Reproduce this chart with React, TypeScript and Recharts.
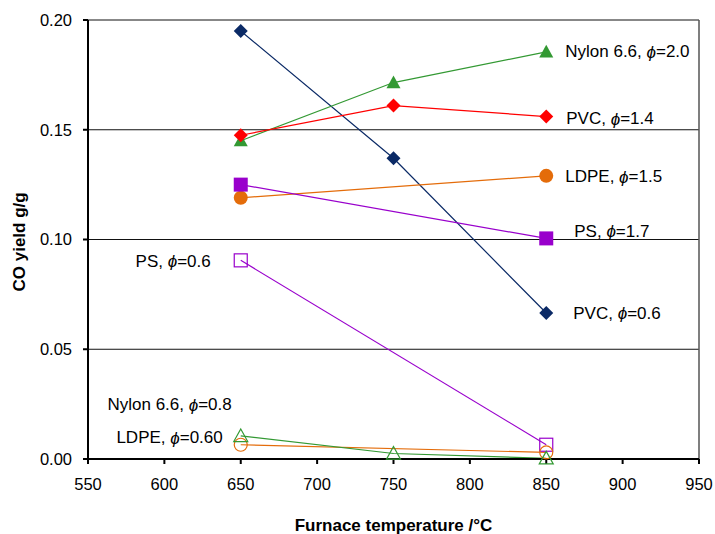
import React from "react"
import { LineChart, Line, XAxis, YAxis, CartesianGrid, ReferenceLine } from "recharts"

const temps = [650, 750, 850]
const tempsEnds = [650, 850]

const pvc06 = [0.195, 0.137, 0.0665]
const pvc14 = [0.1475, 0.161, 0.156]
const nylon20 = [0.145, 0.1715, 0.1855]
const ldpe15 = [0.119, 0.129]
const ps17 = [0.125, 0.1005]
const ps06 = [0.0905, 0.0065]
const nylon08 = [0.0105, 0.0025, 0.0003]
const ldpe060 = [0.0065, 0.003]

const xTicks = [550, 600, 650, 700, 750, 800, 850, 900, 950]
const yTicks = [0, 0.05, 0.1, 0.15, 0.2]

const toRows = (xs: number[], ys: number[]) => xs.map((t, i) => ({ t, v: ys[i] }))

const FONT = "Liberation Sans, Arial, sans-serif"

type Tag = { index: number; name: string; phi: string; dx: number; dy: number; anchor: "start" | "end" }

const series = [
  { key: "pvc06", data: toRows(temps, pvc06), color: "#0B2A66", shape: "diamond", filled: true,
    tag: { index: 2, name: "PVC, ", phi: "=0.6", dx: 27, dy: 0, anchor: "start" } as Tag },
  { key: "nylon20", data: toRows(temps, nylon20), color: "#339933", shape: "triangle", filled: true,
    tag: { index: 2, name: "Nylon 6.6,  ", phi: "=2.0", dx: 19, dy: 0, anchor: "start" } as Tag },
  { key: "pvc14", data: toRows(temps, pvc14), color: "#FF0000", shape: "diamond", filled: true,
    tag: { index: 2, name: "PVC, ", phi: "=1.4", dx: 20, dy: 2, anchor: "start" } as Tag },
  { key: "ldpe15", data: toRows(tempsEnds, ldpe15), color: "#E46C0A", shape: "circle", filled: true,
    tag: { index: 1, name: "LDPE, ", phi: "=1.5", dx: 19, dy: 1, anchor: "start" } as Tag },
  { key: "ps17", data: toRows(tempsEnds, ps17), color: "#9900CC", shape: "square", filled: true,
    tag: { index: 1, name: "PS, ", phi: "=1.7", dx: 28, dy: -7, anchor: "start" } as Tag },
  { key: "ps06", data: toRows(tempsEnds, ps06), color: "#9900CC", shape: "square", filled: false,
    tag: { index: 0, name: "PS, ", phi: "=0.6", dx: -30, dy: 1, anchor: "end" } as Tag },
  { key: "ldpe060", data: toRows(tempsEnds, ldpe060), color: "#E46C0A", shape: "circle", filled: false,
    tag: { index: 0, name: "LDPE, ", phi: "=0.60", dx: -18, dy: -7, anchor: "end" } as Tag },
  { key: "nylon08", data: toRows(temps, nylon08), color: "#339933", shape: "triangle", filled: false,
    tag: { index: 0, name: "Nylon 6.6,  ", phi: "=0.8", dx: -9, dy: -31, anchor: "end" } as Tag },
]

function Marker(props: any) {
  const { cx, cy, shape, color, filled } = props
  if (cx == null || cy == null) return null
  const fill = filled ? color : "none"
  const sw = filled ? 0 : 1.2
  if (shape === "diamond") {
    const r = 7
    return <path d={`M${cx},${cy - r}L${cx + r},${cy}L${cx},${cy + r}L${cx - r},${cy}Z`} fill={fill} stroke={color} strokeWidth={sw} />
  }
  if (shape === "triangle") {
    const r = 7
    return <path d={`M${cx},${cy - r}L${cx + r},${cy + r * 0.8}L${cx - r},${cy + r * 0.8}Z`} fill={fill} stroke={color} strokeWidth={sw} />
  }
  if (shape === "circle") {
    return <circle cx={cx} cy={cy} r={filled ? 7 : 6.5} fill={fill} stroke={color} strokeWidth={sw} />
  }
  const h = filled ? 7 : 6.5
  return <rect x={cx - h} y={cy - h} width={h * 2} height={h * 2} fill={fill} stroke={color} strokeWidth={sw} />
}

function makeLabel(tag: Tag) {
  return (props: any) => {
    const { x, y, index } = props
    if (index !== tag.index) return null
    return (
      <text x={x + tag.dx} y={y + tag.dy} textAnchor={tag.anchor} dominantBaseline="central"
        fontFamily={FONT} fontSize={17} fill="#000">
        {tag.name}
        <tspan fontStyle="italic">ϕ</tspan>
        {tag.phi}
      </text>
    )
  }
}

export default function App() {
  return (
    <div style={{ position: "absolute", left: 0, top: 0, background: "#fff" }}>
      <LineChart width={715} height={534} margin={{ top: 20, right: 16, bottom: 45, left: 28 }}>
        <CartesianGrid vertical={false} stroke="#111" strokeWidth={1} />
        <ReferenceLine x={950} stroke="#555" strokeWidth={1.5} />
        <XAxis
          type="number"
          dataKey="t"
          domain={[550, 950]}
          ticks={xTicks}
          allowDuplicatedCategory={false}
          height={30}
          tickSize={5}
          tickMargin={14}
          stroke="#000"
          strokeWidth={2}
          tick={{ fontSize: 16.5, fill: "#000", fontFamily: FONT }}
          label={{ value: "Furnace temperature  /°C", position: "insideBottom", offset: -42, fontSize: 17, fontWeight: "bold", fill: "#000", fontFamily: FONT }}
        />
        <YAxis
          type="number"
          domain={[0, 0.2]}
          ticks={yTicks}
          width={60}
          tickSize={5}
          tickMargin={11}
          stroke="#000"
          strokeWidth={2}
          tickFormatter={(v: number) => v.toFixed(2)}
          tick={{ fontSize: 16.5, fill: "#000", fontFamily: FONT }}
          label={{ value: "CO yield g/g", angle: -90, position: "insideLeft", offset: -9.5, dy: 52, fontSize: 17, fontWeight: "bold", fill: "#000", fontFamily: FONT }}
        />
        {series.map((s) => (
          <Line
            key={s.key}
            data={s.data}
            dataKey="v"
            type="linear"
            stroke={s.color}
            strokeWidth={1.2}
            isAnimationActive={false}
            dot={(p: any) => <Marker key={`${s.key}-${p.index}`} cx={p.cx} cy={p.cy} shape={s.shape} color={s.color} filled={s.filled} />}
            activeDot={false}
            label={makeLabel(s.tag)}
          />
        ))}
      </LineChart>
    </div>
  )
}
